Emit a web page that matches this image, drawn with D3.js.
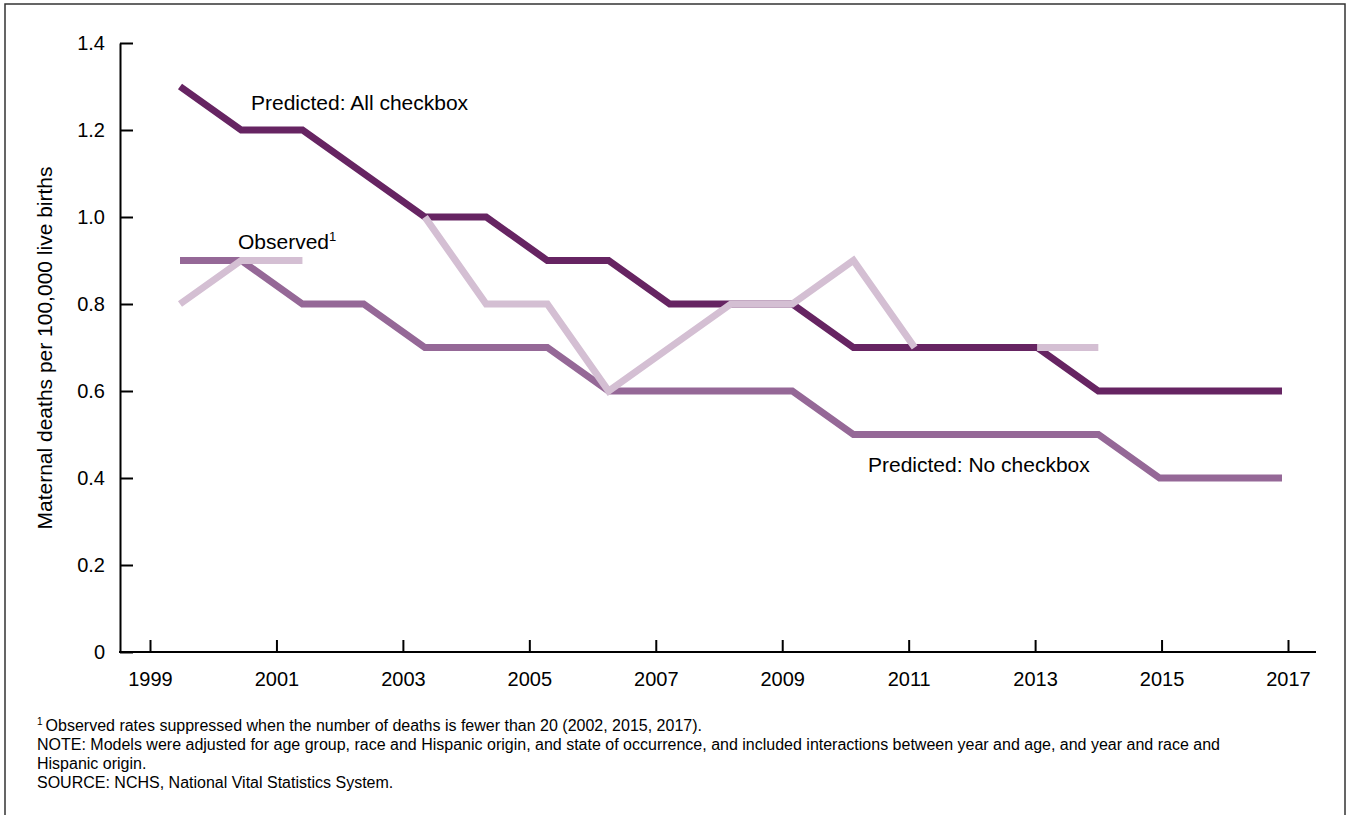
<!DOCTYPE html>
<html>
<head>
<meta charset="utf-8">
<script src="https://cdn.jsdelivr.net/npm/d3@7"></script>
<style>
  html, body { margin: 0; padding: 0; background: #fff; }
  svg { display: block; font-family: "Liberation Sans", Arial, Helvetica, sans-serif; }
</style>
</head>
<body>
<svg id="chart" width="1350" height="815"></svg>
<script>
// Maternal deaths per 100,000 live births, 1999–2017
const years = [1999, 2000, 2001, 2002, 2003, 2004, 2005, 2006, 2007, 2008,
               2009, 2010, 2011, 2012, 2013, 2014, 2015, 2016, 2017];
const predictedAll = [1.3, 1.2, 1.2, 1.1, 1.0, 1.0, 0.9, 0.9, 0.8, 0.8,
                      0.8, 0.7, 0.7, 0.7, 0.7, 0.6, 0.6, 0.6, 0.6];
const predictedNone = [0.9, 0.9, 0.8, 0.8, 0.7, 0.7, 0.7, 0.6, 0.6, 0.6,
                       0.6, 0.5, 0.5, 0.5, 0.5, 0.5, 0.4, 0.4, 0.4];
const observed = [0.8, 0.9, 0.9, null, 1.0, 0.8, 0.8, 0.6, 0.7, 0.8,
                  0.8, 0.9, 0.7, null, 0.7, 0.7, null, null, null];
const xTickYears = [1999, 2001, 2003, 2005, 2007, 2009, 2011, 2013, 2015, 2017];
const yTicks = [0, 0.2, 0.4, 0.6, 0.8, 1.0, 1.2, 1.4];
const footnotes = [
  "Observed rates suppressed when the number of deaths is fewer than 20 (2002, 2015, 2017).",
  "NOTE: Models were adjusted for age group, race and Hispanic origin, and state of occurrence, and included interactions between year and age, and year and race and",
  "Hispanic origin.",
  "SOURCE: NCHS, National Vital Statistics System."
];

const svg = d3.select("#chart");

// outer frame
svg.append("rect")
  .attr("x", 5).attr("y", 4).attr("width", 1340).attr("height", 830)
  .attr("fill", "none").attr("stroke", "#333").attr("stroke-width", 1.5);

const y = d3.scaleLinear().domain([0, 1.4]).range([652, 43]);
const xAxisScale = d3.scaleLinear().domain([1999, 2017]).range([150, 1288]);
const xLine = d3.scaleLinear().domain([1999, 2017]).range([180, 1282]);

// y axis
const gy = svg.append("g").attr("transform", "translate(120,0)")
  .call(d3.axisLeft(y).tickValues(yTicks).tickSizeInner(-13).tickSizeOuter(0)
        .tickPadding(15).tickFormat(d => d === 0 ? "0" : d3.format(".1f")(d)));
gy.select(".domain").attr("stroke", "#000").attr("stroke-width", 2);
gy.selectAll(".tick line").attr("stroke", "#000").attr("stroke-width", 2);
gy.selectAll(".tick text").attr("font-size", 20).attr("fill", "#000")
  .attr("font-family", "Liberation Sans, Arial, sans-serif");

// x axis
const gx = svg.append("g").attr("transform", "translate(0,652)")
  .call(d3.axisBottom(xAxisScale).tickValues(xTickYears).tickSizeInner(-12)
        .tickSizeOuter(0).tickPadding(20).tickFormat(d3.format("d")));
gx.select(".domain").remove();
gx.selectAll(".tick line").attr("stroke", "#000").attr("stroke-width", 2);
gx.selectAll(".tick text").attr("font-size", 20).attr("fill", "#000")
  .attr("font-family", "Liberation Sans, Arial, sans-serif");
svg.append("line").attr("x1", 119).attr("x2", 1316).attr("y1", 652).attr("y2", 652)
  .attr("stroke", "#000").attr("stroke-width", 2);

// y axis title
svg.append("text")
  .attr("transform", "translate(52,348) rotate(-90)")
  .attr("text-anchor", "middle").attr("font-size", 21).attr("fill", "#000")
  .text("Maternal deaths per 100,000 live births");

// series lines
const line = d3.line()
  .defined(d => d.v != null)
  .x(d => xLine(d.year))
  .y(d => y(d.v));

const series = [
  { values: predictedNone, color: "#956897" },
  { values: predictedAll, color: "#662462" },
  { values: observed, color: "#d4bfd3" }
];

svg.append("g").selectAll("path").data(series).join("path")
  .attr("d", s => line(years.map((yr, i) => ({ year: yr, v: s.values[i] }))))
  .attr("fill", "none")
  .attr("stroke", s => s.color)
  .attr("stroke-width", 7)
  .attr("stroke-linecap", "butt")
  .attr("stroke-linejoin", "miter");

// series labels
const labels = svg.append("g").attr("font-size", 21).attr("fill", "#000");
labels.append("text").attr("x", 251).attr("y", 110).text("Predicted: All checkbox");
const obs = labels.append("text").attr("x", 238).attr("y", 249);
obs.append("tspan").text("Observed");
obs.append("tspan").attr("font-size", 13).attr("dy", -8).text("1");
labels.append("text").attr("x", 868).attr("y", 472).text("Predicted: No checkbox");

// footnotes
const notes = svg.append("g").attr("font-size", 16).attr("fill", "#000");
const baselines = [731, 750, 769, 788];
footnotes.forEach((t, i) => {
  const tx = notes.append("text").attr("x", 37).attr("y", baselines[i]);
  if (i === 0) {
    tx.append("tspan").attr("font-size", 10).attr("dy", -6).text("1");
    tx.append("tspan").attr("dy", 6).attr("dx", 3).text(t);
  } else {
    tx.text(t);
  }
});
</script>
</body>
</html>
